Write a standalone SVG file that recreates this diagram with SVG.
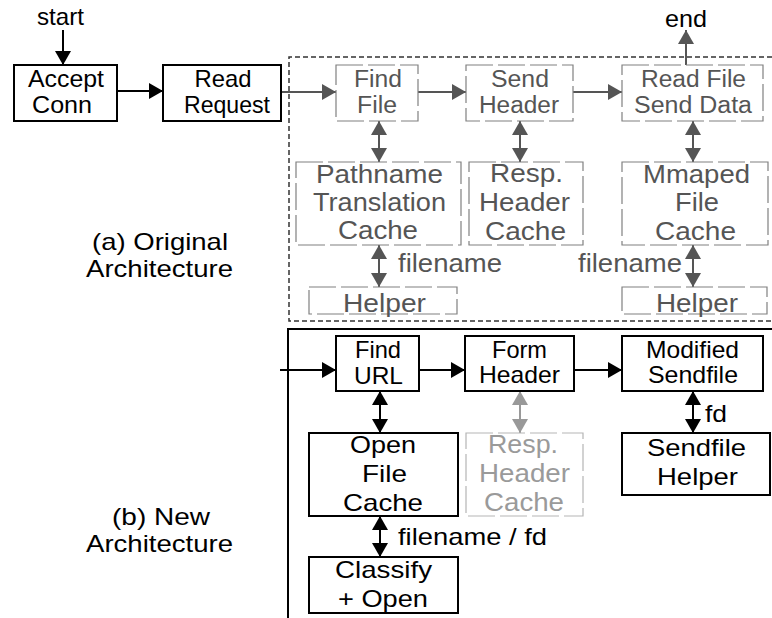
<svg xmlns="http://www.w3.org/2000/svg" width="772" height="618" viewBox="0 0 772 618">
<style>
text{font-family:"Liberation Sans",Arial,sans-serif;text-anchor:middle}
.t{font-size:24px;fill:#000}
.g{font-size:25px;fill:#555}
.g2{font-size:23px;fill:#555}
.l{font-size:25px;fill:#9a9a9a}
.s{text-anchor:start}
.bx{fill:#fff;stroke:#000;stroke-width:2}
.gx{fill:none;stroke:#808080;stroke-width:1.2;stroke-dasharray:27,5}
.lx{fill:none;stroke:#b5b5b5;stroke-width:1.2;stroke-dasharray:27,5}
.cb{stroke:#000;stroke-width:2;fill:none}
.cg{stroke:#555;stroke-width:2;fill:none}
.cl{stroke:#999;stroke-width:2;fill:none}
</style>
<defs>
<marker id="ab" viewBox="0 0 14 16" refX="14" refY="8" markerWidth="14" markerHeight="16" markerUnits="userSpaceOnUse" orient="auto-start-reverse"><path d="M0,0L14,8L0,16z" fill="#000"/></marker>
<marker id="ag" viewBox="0 0 14 16" refX="14" refY="8" markerWidth="14" markerHeight="16" markerUnits="userSpaceOnUse" orient="auto-start-reverse"><path d="M0,0L14,8L0,16z" fill="#555"/></marker>
<marker id="al" viewBox="0 0 14 16" refX="14" refY="8" markerWidth="14" markerHeight="16" markerUnits="userSpaceOnUse" orient="auto-start-reverse"><path d="M0,0L14,8L0,16z" fill="#999"/></marker>
</defs>
<rect width="772" height="618" fill="#fff"/>

<g id="frames">
<path d="M772,57H289V321H772" fill="none" stroke="#333" stroke-width="1.5" stroke-dasharray="5,3"/>
<path d="M772,329H288V618" fill="none" stroke="#000" stroke-width="2"/>
</g>

<g id="labels">
<text class="t" x="60.5" y="25" textLength="47" lengthAdjust="spacingAndGlyphs">start</text>
<text class="t" x="686" y="27" textLength="42" lengthAdjust="spacingAndGlyphs">end</text>
<text class="t" x="160" y="250" textLength="136" lengthAdjust="spacingAndGlyphs">(a) Original</text>
<text class="t" x="159.5" y="277" textLength="147" lengthAdjust="spacingAndGlyphs">Architecture</text>
<text class="t" x="161" y="525" textLength="98" lengthAdjust="spacingAndGlyphs">(b) New</text>
<text class="t" x="159.5" y="552" textLength="147" lengthAdjust="spacingAndGlyphs">Architecture</text>
</g>

<g id="connectors">
<line class="cb" x1="63" y1="30" x2="63" y2="65" marker-end="url(#ab)"/>
<line class="cb" x1="117" y1="91" x2="163" y2="91" marker-end="url(#ab)"/>
<line class="cg" x1="282" y1="92" x2="336" y2="92" marker-end="url(#ag)"/>
<line class="cg" x1="418" y1="92" x2="466" y2="92" marker-end="url(#ag)"/>
<line class="cg" x1="573" y1="92" x2="622" y2="92" marker-end="url(#ag)"/>
<line class="cg" x1="686" y1="65" x2="686" y2="30" marker-end="url(#ag)"/>
<line class="cg" x1="379" y1="121" x2="379" y2="162" marker-start="url(#ag)" marker-end="url(#ag)"/>
<line class="cg" x1="520" y1="121" x2="520" y2="162" marker-start="url(#ag)" marker-end="url(#ag)"/>
<line class="cg" x1="693" y1="121" x2="693" y2="162" marker-start="url(#ag)" marker-end="url(#ag)"/>
<line class="cg" x1="379" y1="245" x2="379" y2="287" marker-start="url(#ag)" marker-end="url(#ag)"/>
<line class="cg" x1="693" y1="245" x2="693" y2="287" marker-start="url(#ag)" marker-end="url(#ag)"/>
<text class="g s" x="398" y="272" textLength="104" lengthAdjust="spacingAndGlyphs">filename</text>
<text class="g s" x="578" y="272" textLength="104" lengthAdjust="spacingAndGlyphs">filename</text>
<line class="cb" x1="280" y1="370" x2="336" y2="370" marker-end="url(#ab)"/>
<line class="cb" x1="419" y1="370" x2="465" y2="370" marker-end="url(#ab)"/>
<line class="cb" x1="574" y1="370" x2="622" y2="370" marker-end="url(#ab)"/>
<line class="cb" x1="380" y1="391" x2="380" y2="433" marker-start="url(#ab)" marker-end="url(#ab)"/>
<line class="cl" x1="520" y1="391" x2="520" y2="433" marker-start="url(#al)" marker-end="url(#al)"/>
<line class="cb" x1="693" y1="391" x2="693" y2="433" marker-start="url(#ab)" marker-end="url(#ab)"/>
<line class="cb" x1="380" y1="516" x2="380" y2="557" marker-start="url(#ab)" marker-end="url(#ab)"/>
<text class="t s" x="705" y="422" textLength="22" lengthAdjust="spacingAndGlyphs">fd</text>
<text class="t s" x="398" y="545" textLength="149" lengthAdjust="spacingAndGlyphs">filename / fd</text>
</g>

<g id="accept-conn">
<rect class="bx" x="14" y="65" width="103" height="56"/>
<text class="t" x="66" y="87" textLength="76" lengthAdjust="spacingAndGlyphs">Accept</text>
<text class="t" x="62" y="113" textLength="60" lengthAdjust="spacingAndGlyphs">Conn</text>
</g>
<g id="read-request">
<rect class="bx" x="163" y="65" width="118" height="56"/>
<text class="t" x="223" y="87" textLength="57" lengthAdjust="spacingAndGlyphs">Read</text>
<text class="t" x="227" y="113" textLength="86" lengthAdjust="spacingAndGlyphs">Request</text>
</g>

<g id="find-file">
<rect class="gx" x="336" y="65" width="82" height="56"/>
<text class="g2" x="378" y="87" textLength="48" lengthAdjust="spacingAndGlyphs">Find</text>
<text class="g2" x="377" y="113" textLength="40" lengthAdjust="spacingAndGlyphs">File</text>
</g>
<g id="send-header">
<rect class="gx" x="466" y="65" width="107" height="56"/>
<text class="g2" x="520" y="87" textLength="58" lengthAdjust="spacingAndGlyphs">Send</text>
<text class="g2" x="519" y="113" textLength="80" lengthAdjust="spacingAndGlyphs">Header</text>
</g>
<g id="read-file-send-data">
<rect class="gx" x="622" y="65" width="141" height="56"/>
<text class="g2" x="693.5" y="87" textLength="105" lengthAdjust="spacingAndGlyphs">Read File</text>
<text class="g2" x="693" y="113" textLength="118" lengthAdjust="spacingAndGlyphs">Send Data</text>
</g>
<g id="pathname-cache">
<rect class="gx" x="296" y="162" width="165" height="83"/>
<text class="g" x="379.5" y="183" textLength="127" lengthAdjust="spacingAndGlyphs">Pathname</text>
<text class="g" x="379.5" y="211" textLength="133" lengthAdjust="spacingAndGlyphs">Translation</text>
<text class="g" x="378" y="239" textLength="80" lengthAdjust="spacingAndGlyphs">Cache</text>
</g>
<g id="resp-header-cache-a">
<rect class="gx" x="469" y="162" width="114" height="83"/>
<text class="g" x="526.5" y="182" textLength="73" lengthAdjust="spacingAndGlyphs">Resp.</text>
<text class="g" x="524.5" y="211" textLength="91" lengthAdjust="spacingAndGlyphs">Header</text>
<text class="g" x="525.5" y="240" textLength="81" lengthAdjust="spacingAndGlyphs">Cache</text>
</g>
<g id="mmaped-file-cache">
<rect class="gx" x="622" y="162" width="146" height="83"/>
<text class="g" x="696.5" y="183" textLength="107" lengthAdjust="spacingAndGlyphs">Mmaped</text>
<text class="g" x="697" y="211" textLength="44" lengthAdjust="spacingAndGlyphs">File</text>
<text class="g" x="695.5" y="240" textLength="81" lengthAdjust="spacingAndGlyphs">Cache</text>
</g>
<g id="helper-left">
<rect class="gx" x="309" y="287" width="148" height="27"/>
<text class="g" x="384.5" y="312" textLength="83" lengthAdjust="spacingAndGlyphs">Helper</text>
</g>
<g id="helper-right">
<rect class="gx" x="622" y="287" width="145" height="27"/>
<text class="g" x="697" y="312" textLength="82" lengthAdjust="spacingAndGlyphs">Helper</text>
</g>

<g id="find-url">
<rect class="bx" x="336" y="336" width="83" height="55"/>
<text class="t" x="378" y="358" textLength="46" lengthAdjust="spacingAndGlyphs">Find</text>
<text class="t" x="378.5" y="384" textLength="49" lengthAdjust="spacingAndGlyphs">URL</text>
</g>
<g id="form-header">
<rect class="bx" x="465" y="336" width="109" height="55"/>
<text class="t" x="519.5" y="358" textLength="55" lengthAdjust="spacingAndGlyphs">Form</text>
<text class="t" x="519.5" y="383" textLength="81" lengthAdjust="spacingAndGlyphs">Header</text>
</g>
<g id="modified-sendfile">
<rect class="bx" x="622" y="336" width="141" height="55"/>
<text class="t" x="692.5" y="358" textLength="93" lengthAdjust="spacingAndGlyphs">Modified</text>
<text class="t" x="693" y="383" textLength="90" lengthAdjust="spacingAndGlyphs">Sendfile</text>
</g>
<g id="open-file-cache">
<rect class="bx" x="309" y="433" width="149" height="83"/>
<text class="t" x="383" y="453" textLength="66" lengthAdjust="spacingAndGlyphs">Open</text>
<text class="t" x="384.5" y="482" textLength="45" lengthAdjust="spacingAndGlyphs">File</text>
<text class="t" x="383" y="511" textLength="80" lengthAdjust="spacingAndGlyphs">Cache</text>
</g>
<g id="resp-header-cache-b">
<rect class="lx" x="466" y="433" width="117" height="83"/>
<text class="l" x="523" y="453" textLength="70" lengthAdjust="spacingAndGlyphs">Resp.</text>
<text class="l" x="524.5" y="482" textLength="91" lengthAdjust="spacingAndGlyphs">Header</text>
<text class="l" x="524" y="511" textLength="80" lengthAdjust="spacingAndGlyphs">Cache</text>
</g>
<g id="sendfile-helper">
<rect class="bx" x="622" y="433" width="148" height="62"/>
<text class="t" x="696.5" y="456" textLength="99" lengthAdjust="spacingAndGlyphs">Sendfile</text>
<text class="t" x="697.5" y="485" textLength="81" lengthAdjust="spacingAndGlyphs">Helper</text>
</g>
<g id="classify-open">
<rect class="bx" x="309" y="557" width="149" height="56"/>
<text class="t" x="383.5" y="578" textLength="97" lengthAdjust="spacingAndGlyphs">Classify</text>
<text class="t" x="383" y="607" textLength="90" lengthAdjust="spacingAndGlyphs">+ Open</text>
</g>
</svg>
